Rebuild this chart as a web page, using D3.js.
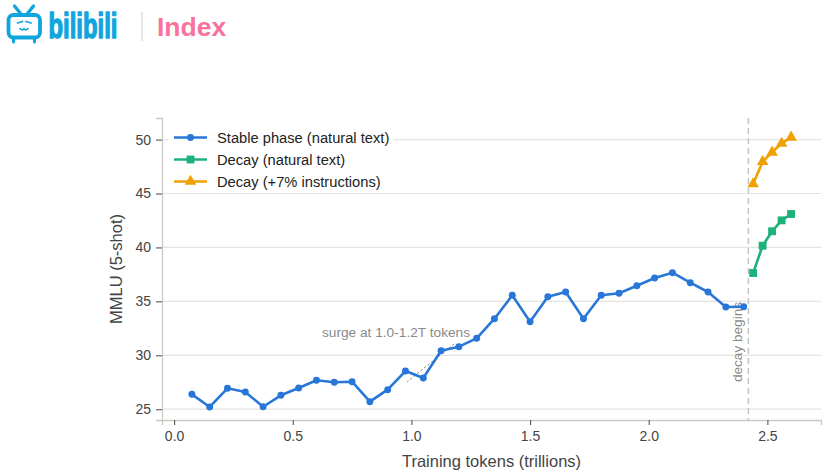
<!DOCTYPE html>
<html>
<head>
<meta charset="utf-8">
<script src="https://cdn.jsdelivr.net/npm/d3@7"></script>
<style>
  html, body { margin: 0; padding: 0; background: #fff; }
  svg { display: block; font-family: "Liberation Sans", Arial, Helvetica, sans-serif; }
</style>
</head>
<body>
<svg id="chart" width="828" height="476"></svg>
<script>
// ---- data ----
const stableX = [0.075,0.15,0.225,0.3,0.375,0.45,0.525,0.6,0.675,0.75,0.825,0.9,0.975,1.05,1.125,1.2,1.275,1.35,1.425,1.5,1.575,1.65,1.725,1.8,1.875,1.95,2.025,2.1,2.175,2.25,2.325,2.4];
const stableY = [26.38,25.21,26.94,26.60,25.23,26.29,26.97,27.68,27.50,27.55,25.70,26.81,28.54,27.89,30.42,30.80,31.57,33.39,35.56,33.11,35.43,35.87,33.39,35.56,35.75,36.45,37.17,37.66,36.73,35.87,34.48,34.50];
const decayX = [2.44,2.48,2.52,2.56,2.60];
const decayNaturalY = [37.63,40.16,41.50,42.51,43.10];
const decayInstrY = [45.88,47.95,48.82,49.65,50.21];
const seriesNames = ["Stable phase (natural text)","Decay (natural text)","Decay (+7% instructions)"];
const xTicks = [0.0,0.5,1.0,1.5,2.0,2.5];
const yTicks = [25,30,35,40,45,50];
const decayStart = 2.42;
const surgeText = "surge at 1.0-1.2T tokens";
const surgeFrom = [1.18, 31.05];
const surgeTo = [0.982, 27.55];
const xTitle = "Training tokens (trillions)";
const yTitle = "MMLU (5-shot)";

const colors = ["#2877d8", "#1db27a", "#f0a000"];

const svg = d3.select("#chart");

// ---- header ----
const hdr = svg.append("g");
const blue = "#10a5de";
hdr.append("rect").attr("x", 8.5).attr("y", 15).attr("width", 31.5).attr("height", 22.5)
  .attr("rx", 5).attr("fill", "none").attr("stroke", blue).attr("stroke-width", 3.8);
hdr.append("line").attr("x1", 14.5).attr("y1", 6).attr("x2", 20.5).attr("y2", 13.5)
  .attr("stroke", blue).attr("stroke-width", 3.4).attr("stroke-linecap", "round");
hdr.append("line").attr("x1", 33.5).attr("y1", 6).attr("x2", 27.5).attr("y2", 13.5)
  .attr("stroke", blue).attr("stroke-width", 3.4).attr("stroke-linecap", "round");
hdr.append("line").attr("x1", 13.5).attr("y1", 39).attr("x2", 13.5).attr("y2", 42)
  .attr("stroke", blue).attr("stroke-width", 3).attr("stroke-linecap", "round");
hdr.append("line").attr("x1", 34.5).attr("y1", 39).attr("x2", 34.5).attr("y2", 42)
  .attr("stroke", blue).attr("stroke-width", 3).attr("stroke-linecap", "round");
hdr.append("path").attr("d", "M17.5,23 L22.5,21.5 M26,21.5 L31,23")
  .attr("fill", "none").attr("stroke", blue).attr("stroke-width", 1.8).attr("stroke-linecap", "round");
hdr.append("path").attr("d", "M20,28.5 Q22,31 24,28.8 Q26,31 28,28.5")
  .attr("fill", "none").attr("stroke", blue).attr("stroke-width", 1.6).attr("stroke-linecap", "round");
hdr.append("text").attr("x", 48.5).attr("y", 38).attr("font-size", 35).attr("font-weight", "bold")
  .attr("textLength", 69).attr("lengthAdjust", "spacingAndGlyphs")
  .attr("fill", blue).attr("stroke", blue).attr("stroke-width", 1.4).attr("stroke-linejoin", "round")
  .text("bilibili");
hdr.append("line").attr("x1", 142).attr("y1", 12).attr("x2", 142).attr("y2", 41)
  .attr("stroke", "#dcdcdc").attr("stroke-width", 1.5);
hdr.append("text").attr("x", 157).attr("y", 36).attr("font-size", 26.5).attr("font-weight", "bold")
  .attr("fill", "#f7739c").text("Index");

// ---- scales ----
const pLeft = 162, pRight = 821, pTop = 118, pBottom = 420;
const x = d3.scaleLinear().domain([-0.051, 2.726]).range([pLeft, pRight]);
const y = d3.scaleLinear().domain([24, 52]).range([pBottom, pTop]);

// grid
svg.append("g").selectAll("line").data(yTicks).join("line")
  .attr("x1", pLeft).attr("x2", pRight)
  .attr("y1", d => y(d)).attr("y2", d => y(d))
  .attr("stroke", "#e4e4e1").attr("stroke-width", 1.2);

// axes
const xAxis = svg.append("g").attr("transform", `translate(0,${pBottom})`)
  .call(d3.axisBottom(x).tickValues(xTicks).tickFormat(d3.format(".1f")).tickSizeOuter(0).tickSize(5).tickPadding(6));
const yAxis = svg.append("g").attr("transform", `translate(${pLeft},0)`)
  .call(d3.axisLeft(y).tickValues(yTicks).tickFormat(d3.format("d")).tickSizeOuter(0).tickSize(6).tickPadding(5));
[xAxis, yAxis].forEach(a => {
  a.select(".domain").attr("stroke", "#c9c9c2").attr("stroke-width", 1.3);
  a.selectAll(".tick line").attr("stroke", "#555").attr("stroke-width", 1.1);
  a.selectAll(".tick text").attr("fill", "#444").attr("font-size", 14)
    .attr("font-family", "'Liberation Sans', Arial, sans-serif");
});

// axis titles
svg.append("text").attr("x", (pLeft + pRight) / 2).attr("y", 467).attr("text-anchor", "middle")
  .attr("font-size", 16.5).attr("fill", "#444").text(xTitle);
svg.append("text").attr("transform", `translate(122,${(pTop + pBottom) / 2}) rotate(-90)`)
  .attr("text-anchor", "middle").attr("font-size", 16.5).attr("fill", "#444").text(yTitle);

// decay start line
svg.append("line").attr("x1", x(decayStart)).attr("x2", x(decayStart))
  .attr("y1", pTop).attr("y2", pBottom)
  .attr("stroke", "#c4c4c4").attr("stroke-width", 1.5).attr("stroke-dasharray", "6,4");
svg.append("text")
  .attr("transform", `translate(${x(decayStart) - 11},342) rotate(-90)`)
  .attr("text-anchor", "middle").attr("dominant-baseline", "central")
  .attr("font-size", 13.6).attr("fill", "#8a8a8a").text("decay begins");

// surge annotation
svg.append("line")
  .attr("x1", x(surgeFrom[0])).attr("y1", y(surgeFrom[1]))
  .attr("x2", x(surgeTo[0])).attr("y2", y(surgeTo[1]))
  .attr("stroke", "#888").attr("stroke-width", 1).attr("stroke-dasharray", "2.5,2");
svg.append("text").attr("x", 396).attr("y", 337).attr("text-anchor", "middle")
  .attr("font-size", 13.7).attr("fill", "#8a8a8a").text(surgeText);

// lines
const line = d3.line().x(d => x(d[0])).y(d => y(d[1]));
const stable = stableX.map((v, i) => [v, stableY[i]]);
const decN = decayX.map((v, i) => [v, decayNaturalY[i]]);
const decI = decayX.map((v, i) => [v, decayInstrY[i]]);

function drawSeries(data, color, shape) {
  svg.append("path").datum(data).attr("d", line).attr("fill", "none")
    .attr("stroke", color).attr("stroke-width", 2.6).attr("stroke-linejoin", "round");
  const sym = d3.symbol().type(shape === "circle" ? d3.symbolCircle : shape === "square" ? d3.symbolSquare : d3.symbolTriangle)
    .size(shape === "circle" ? 38 : shape === "square" ? 62 : 58);
  svg.append("g").selectAll("path").data(data).join("path")
    .attr("d", sym).attr("transform", d => `translate(${x(d[0])},${y(d[1])})`)
    .attr("fill", color);
}
drawSeries(stable, colors[0], "circle");
drawSeries(decN, colors[1], "square");
drawSeries(decI, colors[2], "triangle");

// legend
const lg = svg.append("g");
lg.append("rect").attr("x", 168).attr("y", 124).attr("width", 226).attr("height", 66)
  .attr("fill", "#fff").attr("opacity", 0.85);
const shapes = [d3.symbolCircle, d3.symbolSquare, d3.symbolTriangle];
const sizes = [38, 62, 58];
seriesNames.forEach((name, i) => {
  const yy = 137.5 + i * 22;
  lg.append("line").attr("x1", 174).attr("x2", 207).attr("y1", yy).attr("y2", yy)
    .attr("stroke", colors[i]).attr("stroke-width", 2.6);
  lg.append("path").attr("d", d3.symbol().type(shapes[i]).size(sizes[i]))
    .attr("transform", `translate(190.5,${yy})`).attr("fill", colors[i]);
  lg.append("text").attr("x", 217).attr("y", yy).attr("dominant-baseline", "central")
    .attr("font-size", 14.7).attr("fill", "#222").text(name);
});
</script>
</body>
</html>
